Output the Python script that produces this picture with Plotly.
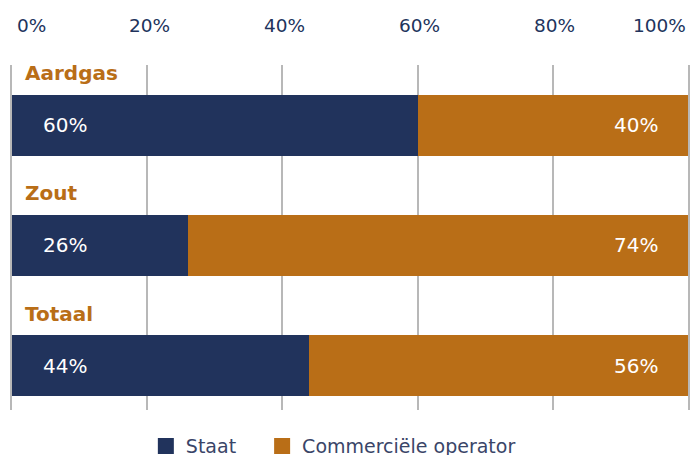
import plotly.graph_objects as go

categories = ["Aardgas", "Zout", "Totaal"]
staat = [60, 26, 44]
commercieel = [40, 74, 56]
series_names = ["Staat", "Commerciële operator"]
tick_values = [0, 20, 40, 60, 80, 100]
tick_labels = ["0%", "20%", "40%", "60%", "80%", "100%"]

NAVY = "#21335C"
ORANGE = "#B96E17"
GRID = "#B8B8B8"
FONT = "DejaVu Sans"

ypos = list(range(len(categories)))
series = [(series_names[0], staat, NAVY, "legend"),
          (series_names[1], commercieel, ORANGE, "legend2")]

fig = go.Figure()
for name, vals, col, lg in series:
    fig.add_trace(go.Bar(y=ypos, x=vals, orientation="h", name=name,
                         marker=dict(color=col, line=dict(width=0)), width=0.507,
                         hoverinfo="skip", showlegend=False))
for name, vals, col, lg in series:
    # legend entry with a larger square swatch
    fig.add_trace(go.Scatter(x=[None], y=[None], mode="markers", name=name,
                             marker=dict(symbol="square", size=18, color=col),
                             hoverinfo="skip", showlegend=True, legend=lg))

ann = []
for v, t in zip(tick_values, tick_labels):
    if v == tick_values[0]:
        xa, xs = "left", 3
    elif v == tick_values[-1]:
        xa, xs = "right", 0
    else:
        xa, xs = "center", 2
    ann.append(dict(x=v, xref="x", y=1, yref="paper", yshift=40, xshift=xs,
                    text=t, showarrow=False, xanchor=xa, yanchor="middle",
                    font=dict(family=FONT, size=18.5, color=NAVY)))

for i, c in enumerate(categories):
    ann.append(dict(x=0, xref="x", y=i, yref="y", yshift=52, xshift=11,
                    text="<b>%s</b>" % c, showarrow=False, xanchor="left",
                    yanchor="middle", font=dict(family=FONT, size=20, color=ORANGE)))
    ann.append(dict(x=0, xref="x", y=i, yref="y", xshift=29,
                    text="%d%%" % staat[i], showarrow=False, xanchor="left",
                    yanchor="middle", font=dict(family=FONT, size=20, color="white")))
    ann.append(dict(x=100, xref="x", y=i, yref="y", xshift=-28,
                    text="%d%%" % commercieel[i], showarrow=False, xanchor="right",
                    yanchor="middle", font=dict(family=FONT, size=20, color="white")))

legend_common = dict(orientation="h", xanchor="left", y=-0.105, yanchor="middle",
                     font=dict(family=FONT, size=19, color="#3A4568"),
                     bgcolor="rgba(0,0,0,0)",
                     itemclick=False, itemdoubleclick=False)

fig.update_layout(
    width=691, height=455,
    margin=dict(l=12, r=3, t=65, b=45, autoexpand=False),
    barmode="stack",
    bargap=0,
    plot_bgcolor="white",
    paper_bgcolor="white",
    showlegend=True,
    legend=dict(x=0.198, **legend_common),
    legend2=dict(x=0.370, **legend_common),
    xaxis=dict(range=[0, 100], tickvals=tick_values, showticklabels=False,
               showgrid=True, gridcolor=GRID, gridwidth=2,
               zeroline=False, showline=False, fixedrange=True),
    yaxis=dict(range=[2.37, -0.5], showticklabels=False, showgrid=False,
               zeroline=False, showline=True, mirror=True, linecolor=GRID,
               linewidth=2, fixedrange=True),
    annotations=ann,
)

fig.write_html("out.html", config={"displayModeBar": False},
               post_script="document.body.style.margin='0';document.body.style.overflow='hidden';")
